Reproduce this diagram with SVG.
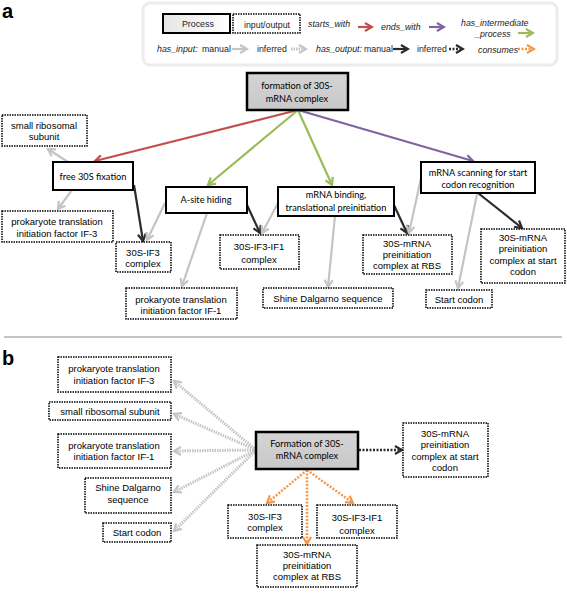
<svg xmlns="http://www.w3.org/2000/svg" width="567" height="594" viewBox="0 0 567 594">
<style>
text{font-family:"Liberation Sans",Arial,sans-serif;font-size:9.5px;fill:#000;text-anchor:middle}
.c{font-family:Lato,"Liberation Sans",sans-serif;font-size:9.2px}
.lg{font-size:8.8px;fill:#222;text-anchor:start}
.i{font-style:italic}
.lab{font-size:20px;font-weight:bold;text-anchor:start}
.io{fill:#fff;stroke:#000;stroke-width:1.5;stroke-dasharray:1.5 1}
.pr{fill:#fff;stroke:#000;stroke-width:2}
.main{fill:url(#g);stroke:#000;stroke-width:2.5}
.ln{fill:none;stroke-width:2.2}
.red{stroke:#c0504d;marker-end:url(#mr)}
.pur{stroke:#8064a2;marker-end:url(#mp)}
.grn{stroke:#9bbb59;marker-end:url(#mg)}
.gry{stroke:#c4c4c4;marker-end:url(#mq)}
.blk{stroke:#2b2b2b;marker-end:url(#mk)}
.gdot{stroke:#c4c4c4;stroke-width:3;stroke-dasharray:1.5 1;marker-end:url(#mq)}
.kdot{stroke:#2b2b2b;stroke-width:2.5;stroke-dasharray:2 1.5;marker-end:url(#mk)}
.odot{stroke:#f79646;stroke-width:2.5;stroke-dasharray:2 1.5;marker-end:url(#mo)}
</style>
<defs>
<linearGradient id="g" x1="0" y1="0" x2="0" y2="1"><stop offset="0" stop-color="#d4d4d4"/><stop offset="1" stop-color="#c8c8c8"/></linearGradient>
<linearGradient id="g2" x1="0" y1="0" x2="1" y2="0"><stop offset="0" stop-color="#e6e6e6"/><stop offset="1" stop-color="#ffffff"/></linearGradient>
<marker id="mr" viewBox="0 0 10 10" refX="8" refY="5" markerWidth="10" markerHeight="10" markerUnits="userSpaceOnUse" orient="auto"><path d="M1,1 L8,5 L1,9" fill="none" stroke="#c0504d" stroke-width="2.2"/></marker>
<marker id="mp" viewBox="0 0 10 10" refX="8" refY="5" markerWidth="10" markerHeight="10" markerUnits="userSpaceOnUse" orient="auto"><path d="M1,1 L8,5 L1,9" fill="none" stroke="#8064a2" stroke-width="2.2"/></marker>
<marker id="mg" viewBox="0 0 10 10" refX="8" refY="5" markerWidth="10" markerHeight="10" markerUnits="userSpaceOnUse" orient="auto"><path d="M1,1 L8,5 L1,9" fill="none" stroke="#9bbb59" stroke-width="2.2"/></marker>
<marker id="mq" viewBox="0 0 10 10" refX="8" refY="5" markerWidth="10" markerHeight="10" markerUnits="userSpaceOnUse" orient="auto"><path d="M1,1 L8,5 L1,9" fill="none" stroke="#c4c4c4" stroke-width="2.2"/></marker>
<marker id="mk" viewBox="0 0 10 10" refX="8" refY="5" markerWidth="10" markerHeight="10" markerUnits="userSpaceOnUse" orient="auto"><path d="M1,1 L8,5 L1,9" fill="none" stroke="#2b2b2b" stroke-width="2.2"/></marker>
<marker id="mo" viewBox="0 0 10 10" refX="8" refY="5" markerWidth="10" markerHeight="10" markerUnits="userSpaceOnUse" orient="auto"><path d="M1,1 L8,5 L1,9" fill="none" stroke="#f79646" stroke-width="2.2"/></marker>
</defs>

<text class="lab" x="2" y="18">a</text>
<text class="lab" x="2" y="365">b</text>
<line x1="4" y1="337" x2="562" y2="337" stroke="#8a8a8a" stroke-width="1"/>

<g id="legend">
<rect x="143" y="3" width="414" height="62" rx="7" fill="#fff" stroke="#ececec" stroke-width="3"/>
<rect x="163" y="14" width="67" height="19" fill="url(#g2)" stroke="#000" stroke-width="2"/>
<text class="lg" x="182" y="27">Process</text>
<rect class="io" x="233" y="14" width="67" height="19"/>
<text class="lg" x="244" y="28">input/output</text>
<text class="lg i" x="308" y="27">starts_with</text>
<line class="ln red" x1="358" y1="27" x2="372" y2="27" stroke-width="3"/>
<text class="lg i" x="381" y="30">ends_with</text>
<line class="ln pur" x1="429" y1="27" x2="444" y2="27" stroke-width="3"/>
<text class="lg i" x="461" y="26">has_intermediate</text>
<text class="lg i" x="475" y="37">_process</text>
<line class="ln grn" x1="518" y1="33" x2="533" y2="33" stroke-width="3"/>
<text class="lg i" x="157" y="52">has_input:</text>
<text class="lg" x="202" y="52">manual</text>
<line class="ln gry" x1="232" y1="49" x2="247" y2="49" stroke-width="3"/>
<text class="lg" x="257" y="52">inferred</text>
<line class="ln gdot" x1="291" y1="49" x2="306" y2="49"/>
<text class="lg i" x="316" y="52">has_output:</text>
<text class="lg" x="364" y="52">manual</text>
<line class="ln blk" x1="393" y1="49" x2="408" y2="49" stroke-width="3"/>
<text class="lg" x="417" y="52">inferred</text>
<line class="ln kdot" x1="449" y1="49" x2="463" y2="49"/>
<text class="lg i" x="478" y="53">consumes</text>
<line class="ln odot" x1="518" y1="49" x2="534" y2="49"/>
</g>

<g id="connectors">
<line class="ln red" x1="298" y1="110" x2="95" y2="161"/>
<line class="ln grn" x1="298" y1="110" x2="208" y2="185"/>
<line class="ln grn" x1="298" y1="110" x2="332" y2="185"/>
<line class="ln pur" x1="298" y1="110" x2="473" y2="161"/>
<line class="ln gry" x1="68" y1="162" x2="48" y2="149"/>
<line class="ln gry" x1="72" y1="190" x2="58" y2="209"/>
<line class="ln blk" x1="134" y1="185" x2="143" y2="241"/>
<line class="ln gry" x1="165" y1="203" x2="147" y2="240"/>
<line class="ln blk" x1="247" y1="205" x2="260" y2="233"/>
<line class="ln gry" x1="207" y1="213" x2="182" y2="286"/>
<line class="ln gry" x1="278" y1="203" x2="262" y2="233"/>
<line class="ln gry" x1="335" y1="216" x2="328" y2="287"/>
<line class="ln blk" x1="393" y1="203" x2="407" y2="233"/>
<line class="ln gry" x1="421" y1="178" x2="409" y2="233"/>
<line class="ln blk" x1="478" y1="193" x2="522" y2="228"/>
<line class="ln gry" x1="477" y1="194" x2="458" y2="288"/>

<line class="ln gdot" x1="256" y1="450" x2="174" y2="381"/>
<line class="ln gdot" x1="256" y1="450" x2="174" y2="414"/>
<line class="ln gdot" x1="256" y1="450" x2="174" y2="451"/>
<line class="ln gdot" x1="256" y1="450" x2="174" y2="492"/>
<line class="ln gdot" x1="256" y1="450" x2="174" y2="531"/>
<line class="ln kdot" x1="359" y1="450" x2="402" y2="450"/>
<line class="ln odot" x1="307" y1="470" x2="267" y2="503"/>
<line class="ln odot" x1="307" y1="470" x2="307" y2="544"/>
<line class="ln odot" x1="307" y1="470" x2="353" y2="503"/>
</g>

<g id="a_formation"><rect class="main" x="247" y="73" width="101" height="37"/><text class="c" x="297" y="89">formation of 30S-</text><text class="c" x="297" y="102">mRNA complex</text></g>
<g id="a_free30S"><rect class="pr" x="53" y="162" width="80" height="28"/><text class="c" x="93" y="180">free 30S fixation</text></g>
<g id="a_asite"><rect class="pr" x="166" y="187" width="81" height="26"/><text class="c" x="206" y="203">A-site hiding</text></g>
<g id="a_mrnabinding"><rect class="pr" x="278" y="187" width="116" height="29"/><text class="c" x="336" y="198">mRNA binding,</text><text class="c" x="336" y="211">translational preinitiation</text></g>
<g id="a_scanning"><rect class="pr" x="421" y="162" width="114" height="31"/><text class="c" x="478" y="176">mRNA scanning for start</text><text class="c" x="478" y="188">codon recognition</text></g>
<g id="a_small"><rect class="io" x="2" y="115" width="85" height="31"/><text x="44" y="129">small ribosomal</text><text x="44" y="140">subunit</text></g>
<g id="a_if3"><rect class="io" x="2" y="211" width="111" height="31"/><text x="57" y="225">prokaryote translation</text><text x="57" y="237">initiation  factor IF-3</text></g>
<g id="a_30sif3"><rect class="io" x="116" y="242" width="55" height="30"/><text x="143" y="256">30S-IF3</text><text x="143" y="267">complex</text></g>
<g id="a_30sif3if1"><rect class="io" x="220" y="235" width="79" height="34"/><text x="259" y="250">30S-IF3-IF1</text><text x="259" y="263">complex</text></g>
<g id="a_if1"><rect class="io" x="126" y="288" width="111" height="31"/><text x="181" y="303">prokaryote translation</text><text x="181" y="314">initiation  factor IF-1</text></g>
<g id="a_shine"><rect class="io" x="263" y="288" width="130" height="20"/><text x="328" y="302">Shine Dalgarno sequence</text></g>
<g id="a_rbs"><rect class="io" x="363" y="235" width="89" height="39"/><text x="407" y="247">30S-mRNA</text><text x="407" y="258">preinitiation</text><text x="407" y="269">complex at RBS</text></g>
<g id="a_startcomplex"><rect class="io" x="481" y="229" width="84" height="54"/><text x="523" y="241">30S-mRNA</text><text x="523" y="252">preinitiation</text><text x="523" y="264">complex at start</text><text x="523" y="275">codon</text></g>
<g id="a_startcodon"><rect class="io" x="426" y="290" width="66" height="18"/><text x="459" y="303">Start codon</text></g>

<g id="b_if3"><rect class="io" x="58" y="357" width="113" height="35"/><text x="114" y="372">prokaryote translation</text><text x="114" y="384">initiation  factor IF-3</text></g>
<g id="b_small"><rect class="io" x="49" y="402" width="122" height="18"/><text x="110" y="415">small ribosomal subunit</text></g>
<g id="b_if1"><rect class="io" x="58" y="434" width="113" height="34"/><text x="114" y="449">prokaryote translation</text><text x="114" y="460">initiation  factor IF-1</text></g>
<g id="b_shine"><rect class="io" x="85" y="478" width="86" height="35"/><text x="128" y="491">Shine Dalgarno</text><text x="128" y="503">sequence</text></g>
<g id="b_startcodon"><rect class="io" x="103" y="523" width="68" height="19"/><text x="137" y="536">Start codon</text></g>
<g id="b_formation"><rect class="main" x="256" y="432" width="102" height="37"/><text class="c" x="307" y="447">Formation of 30S-</text><text class="c" x="307" y="459">mRNA complex</text></g>
<g id="b_startcomplex"><rect class="io" x="403" y="423" width="85" height="54"/><text x="445" y="437">30S-mRNA</text><text x="445" y="448">preinitiation</text><text x="445" y="460">complex at start</text><text x="445" y="471">codon</text></g>
<g id="b_30sif3"><rect class="io" x="228" y="505" width="74" height="33"/><text x="265" y="520">30S-IF3</text><text x="265" y="531">complex</text></g>
<g id="b_30sif3if1"><rect class="io" x="317" y="505" width="80" height="33"/><text x="357" y="521">30S-IF3-IF1</text><text x="357" y="534">complex</text></g>
<g id="b_rbs"><rect class="io" x="257" y="545" width="100" height="42"/><text x="307" y="558">30S-mRNA</text><text x="307" y="569">preinitiation</text><text x="307" y="580">complex at RBS</text></g>
</svg>
